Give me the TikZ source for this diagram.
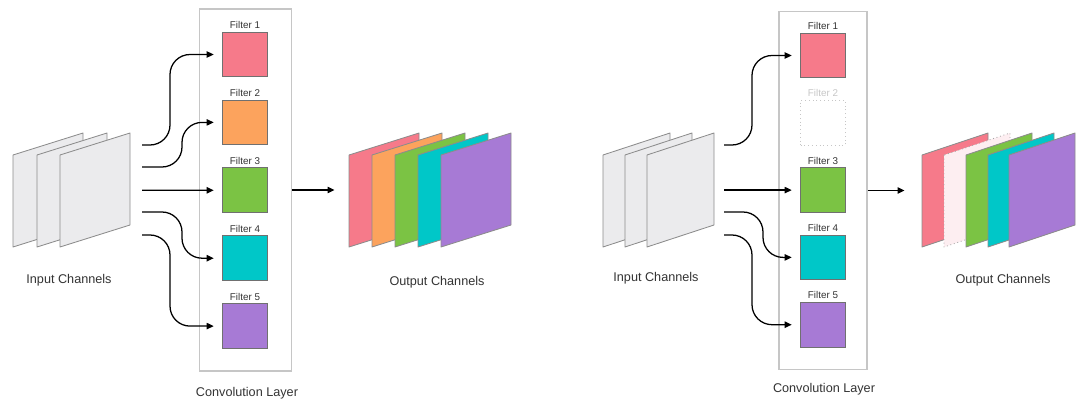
\documentclass[tikz,border=0pt]{standalone}
\usepackage{fontspec}
\setmainfont{Liberation Sans}
\usetikzlibrary{arrows.meta, positioning}
\definecolor{fpink}{HTML}{F67A8A}
\definecolor{forange}{HTML}{FCA35D}
\definecolor{fgreen}{HTML}{7BC344}
\definecolor{fcyan}{HTML}{00C7C8}
\definecolor{fpurple}{HTML}{A77AD5}
\definecolor{sheetgray}{HTML}{EBEBED}
\definecolor{edgegray}{HTML}{8C8C8C}
\definecolor{boxgray}{HTML}{C6C6C6}
\definecolor{ghostpink}{HTML}{FDEEF1}
\definecolor{textgray}{HTML}{333333}

\tikzset{
    filter/.style={draw=edgegray!80!black, line width=0.6pt, minimum size=1.12cm, inner sep=0pt},
    ghostfilter/.style={draw=gray!45, dotted, line width=0.7pt, minimum size=1.12cm, inner sep=0pt},
    flabel/.style={font=\fontsize{7}{8}\selectfont, text=textgray, inner sep=1pt},
    caption/.style={font=\fontsize{9}{11}\selectfont, text=textgray, inner sep=1pt},
    convbox/.style={draw=boxgray, line width=0.8pt, minimum width=2.3cm, minimum height=9.05cm, inner sep=0pt},
    sheetline/.style={draw=edgegray, line width=0.6pt, line join=round},
    flow/.style={line width=0.9pt, -{Triangle[length=5pt, width=4.5pt]}, rounded corners=0.5cm, shorten >=6pt}
}
\newcommand{\drawsheet}[3]{\draw[sheetline, fill=#3] (#1,155) -- ++(0,92) -- ++(#2,-22) -- ++(0,-92) -- cycle;}

\begin{document}
\begin{tikzpicture}[x=0.025cm, y=-0.025cm]
    \useasboundingbox (0,0) rectangle (1086,407);

    % ---------- left: all five filters ----------
    % Input channels
    \foreach \x in {13,37,60} {
        \drawsheet{\x}{70}{sheetgray}
    }
    \node[caption] (inlblA) at (69,280) {Input Channels};

    % Convolution layer with filters
    \node[convbox] (convA) at (245.5,190) {};
    \node[caption] (convlblA) at (247,393) {Convolution Layer};
    \foreach \i/\c in {1/fpink,2/forange,3/fgreen,4/fcyan,5/fpurple} {
        \node[filter, fill=\c] (fA\i) at (245,{54.5+67.9*(\i-1)}) {};
        \node[flabel, above=1pt of fA\i] (tA\i) {Filter \i};
    }

    % Arrows into the filters
    \coordinate (inA1) at (142,145);
    \coordinate (inA2) at (142,167);
    \coordinate (inA3) at (142,190.3);
    \coordinate (inA4) at (142,212);
    \coordinate (inA5) at (142,235);
    \draw[flow] (inA1) -- ++(28,0) |- (fA1.west);
    \draw[flow] (inA2) -- ++(40,0) |- (fA2.west);
    \draw[flow] (inA3) -- (fA3.west);
    \draw[flow] (inA4) -- ++(40,0) |- (fA4.west);
    \draw[flow] (inA5) -- ++(28,0) |- (fA5.west);

    % Output channels
    \coordinate (outA) at (343,190);
    \draw[flow] (convA.east) -- (outA);
    \foreach \x/\c in {349/fpink,372/forange,395/fgreen,418/fcyan,441/fpurple} {
        \drawsheet{\x}{70}{\c}
    }
    \node[caption] (outlblA) at (437,282) {Output Channels};

    % ---------- right: filter 2 dropped ----------
    % Input channels
    \foreach \x in {603,625,647} {
        \drawsheet{\x}{67}{sheetgray}
    }
    \node[caption] (inlblB) at (656,278) {Input Channels};

    % Convolution layer with filters
    \node[convbox, minimum width=2.2cm, minimum height=8.93cm] (convB) at (823,190.5) {};
    \node[caption] (convlblB) at (824,389) {Convolution Layer};
    \foreach \i/\c in {1/fpink,3/fgreen,4/fcyan,5/fpurple} {
        \node[filter, fill=\c] (fB\i) at (823,{55.5+67.3*(\i-1)}) {};
        \node[flabel, above=1pt of fB\i] (tB\i) {Filter \i};
    }
    \node[ghostfilter] (fB2) at (823,122.8) {};
    \node[flabel, text=gray!45, above=1pt of fB2] (tB2) {Filter 2};

    % Arrows into the filters
    \coordinate (inB1) at (724,145);
    \coordinate (inB3) at (724,190.1);
    \coordinate (inB4) at (724,212);
    \coordinate (inB5) at (724,235);
    \draw[flow] (inB1) -- ++(28,0) |- (fB1.west);
    \draw[flow] (inB3) -- (fB3.west);
    \draw[flow] (inB4) -- ++(39,0) |- (fB4.west);
    \draw[flow] (inB5) -- ++(28,0) |- (fB5.west);

    % Output channels
    \coordinate (outB) at (913,190.5);
    \draw[flow] (convB.east) -- (outB);
    \drawsheet{922}{66}{fpink}
    \draw[sheetline, draw=gray!70, dotted, fill=ghostpink] (944,155) -- ++(0,92) -- ++(66,-22) -- ++(0,-92) -- cycle;
    \foreach \x/\c in {966/fgreen,988/fcyan,1009/fpurple} {
        \drawsheet{\x}{66}{\c}
    }
    \node[caption] (outlblB) at (1003,280) {Output Channels};
\end{tikzpicture}
\end{document}
